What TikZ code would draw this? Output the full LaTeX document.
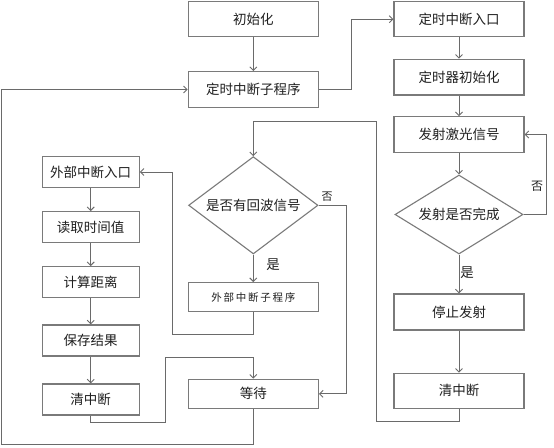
\documentclass[tikz,border=0pt]{standalone}
\usepackage{fontspec}
\setmainfont{Noto Sans CJK SC}
\newfontfamily\cjk{Noto Sans CJK SC}
\usetikzlibrary{arrows.meta,shapes.geometric}
\definecolor{boxline}{HTML}{7A7A7A}
\definecolor{conline}{HTML}{6A6A6A}
\definecolor{txt}{HTML}{202020}
\tikzset{
  boxnode/.style={draw=boxline, line width=1.3pt, rectangle, minimum width=130pt, inner sep=0pt, text=txt, font=\cjk\fontsize{13.5}{14}\selectfont},
  lbox/.style={boxnode, minimum width=97pt, minimum height=31pt},
  dia/.style={draw=boxline, line width=1.1pt, diamond, inner sep=0pt, text=txt, font=\cjk\fontsize{13.5}{14}\selectfont},
  arr/.style={draw=conline, line width=0.9pt, -{Straight Barb[length=3.5pt,width=7pt]}},
  ln/.style={draw=conline, line width=0.9pt},
  lab/.style={text=txt, inner sep=0pt}
}
\begin{document}
\begin{tikzpicture}[x=1pt,y=-1pt]
\useasboundingbox[fill=white] (0,0) rectangle (554,447);
% top-middle
\node[boxnode, minimum height=35pt] (init) at (253.3,19.2) {初始化};
\node[boxnode, minimum height=35.6pt] (tsub) at (253.3,89.5) {定时中断子程序};
% right column
\node[boxnode, minimum height=35pt] (tent) at (459,19.2) {定时中断入口};
\node[boxnode, minimum height=35.7pt] (tinit) at (459,77.2) {定时器初始化};
\node[boxnode, minimum height=35.6pt] (fire) at (459,134.5) {发射激光信号};
\node[dia, minimum width=128pt, minimum height=79pt, aspect=1.62] (dfire) at (459,214.5) {发射是否完成};
\node[boxnode, minimum height=36pt] (stop) at (459,312) {停止发射};
\node[boxnode, minimum height=35pt] (rclr) at (459,390.8) {清中断};
% middle column
\node[dia, minimum width=129.4pt, minimum height=97.3pt, aspect=1.33] (decho) at (253.3,205.3) {是否有回波信号};
\node[boxnode, minimum height=29pt, font=\cjk\fontsize{10.5}{12}\selectfont] (esub) at (253.3,297.2) {外\,部\,中\,断\,子\,程\,序};
\node[boxnode, minimum height=29pt] (wait) at (253.3,393.8) {等待};
% left column
\node[lbox, minimum height=30.6pt] (eent) at (90.7,172) {外部中断入口};
\node[lbox] (read) at (90.7,227.2) {读取时间值};
\node[lbox] (calc) at (90.7,282.2) {计算距离};
\node[lbox] (save) at (90.7,340.5) {保存结果};
\node[lbox] (lclr) at (90.7,399.5) {清中断};
% labels
\node[lab, font=\cjk\fontsize{12}{12}\selectfont] (no1) at (537,186.7) {否};
\node[lab, font=\cjk\fontsize{13.5}{14}\selectfont] (yes1) at (467,273) {是};
\node[lab, font=\cjk\fontsize{11}{12}\selectfont] (no2) at (327,196.5) {否};
\node[lab, font=\cjk\fontsize{13.5}{14}\selectfont] (yes2) at (273,265) {是};
% helper coordinates
\coordinate (c1) at (376,421);
\coordinate (c2) at (376,121);
\coordinate (c3) at (172,334.3);
\coordinate (c4) at (165.7,422.7);
\coordinate (c5) at (165.7,357.3);
\coordinate (c6) at (1.7,444.3);
\coordinate (c7) at (351.7,89.5);
\coordinate (c8) at (546.7,214.5);
\coordinate (c9) at (346,205.3);
% connectors
\draw[arr] (init) -- (tsub);
\draw[arr] (tsub.east) -- (c7) |- (tent.west);
\draw[arr] (tent) -- (tinit);
\draw[arr] (tinit) -- (fire);
\draw[arr] (fire) -- (dfire.north);
\draw[arr] (dfire.east) -- (c8) |- (fire.east);
\draw[arr] (dfire.south) -- (stop.north);
\draw[arr] (stop) -- (rclr);
\draw[arr] (rclr.south) |- (c1) -- (c2) -| (decho.north);
\draw[arr] (decho.south) -- (esub.north);
\draw[arr] (decho.east) -- (c9) |- (wait.east);
\draw[arr] (esub.south) |- (c3) |- (eent.east);
\draw[arr] (eent) -- (read);
\draw[arr] (read) -- (calc);
\draw[arr] (calc) -- (save);
\draw[arr] (save) -- (lclr);
\draw[arr] (lclr.south) |- (c4) -- (c5) -| (wait.north);
\draw[arr] (wait.south) |- (c6) |- (tsub.west);
\end{tikzpicture}
\end{document}
